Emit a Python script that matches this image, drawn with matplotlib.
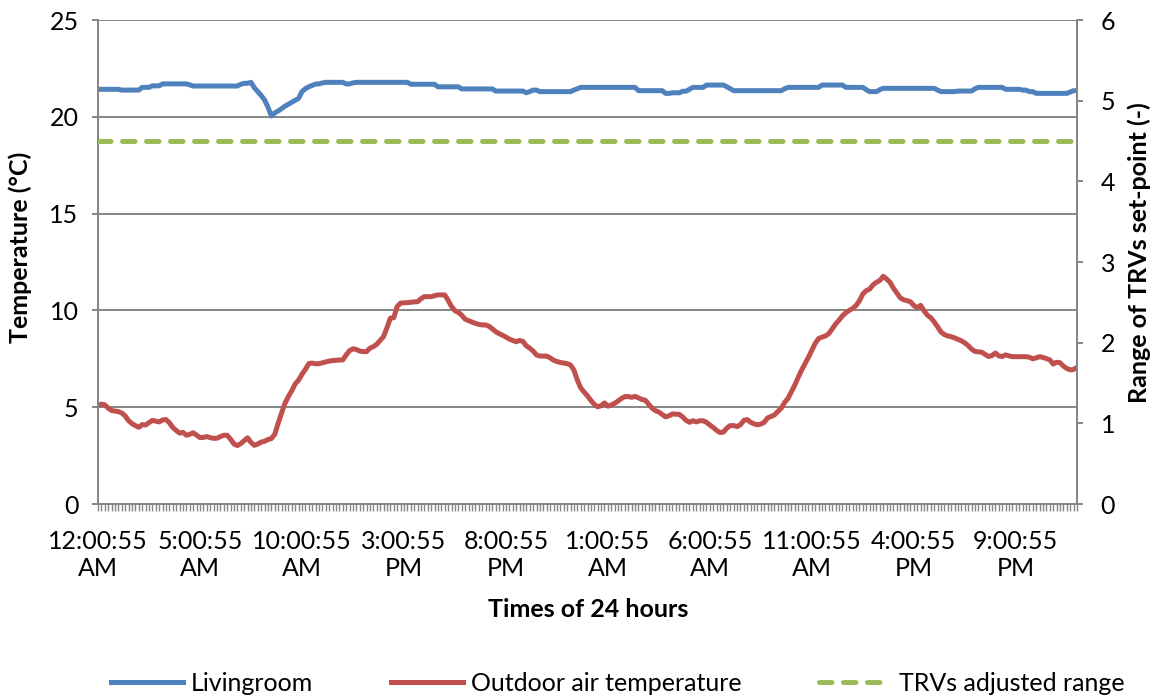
import matplotlib
matplotlib.use("Agg")
import matplotlib.pyplot as plt
from matplotlib.lines import Line2D
from matplotlib.ticker import FixedLocator, NullFormatter

plt.rcParams['font.family'] = ['Lato', 'DejaVu Sans']

# 10-minute readings over 48 hours (289 samples)
livingroom = [
    21.42, 21.42, 21.42, 21.42, 21.42, 21.42, 21.42, 21.38, 21.38, 21.38,
    21.38, 21.38, 21.38, 21.52, 21.52, 21.52, 21.60, 21.60, 21.60, 21.70,
    21.70, 21.70, 21.70, 21.70, 21.70, 21.70, 21.70, 21.65, 21.59, 21.59,
    21.59, 21.59, 21.59, 21.59, 21.59, 21.59, 21.59, 21.59, 21.59, 21.59,
    21.59, 21.59, 21.68, 21.73, 21.73, 21.78, 21.50, 21.30, 21.10, 20.87,
    20.50, 20.04, 20.20, 20.30, 20.42, 20.55, 20.65, 20.75, 20.85, 20.95,
    21.30, 21.45, 21.55, 21.62, 21.69, 21.70, 21.75, 21.78, 21.78, 21.78,
    21.78, 21.78, 21.78, 21.70, 21.70, 21.75, 21.78, 21.78, 21.78, 21.78,
    21.78, 21.78, 21.78, 21.78, 21.78, 21.78, 21.78, 21.78, 21.78, 21.78,
    21.78, 21.78, 21.68, 21.68, 21.68, 21.68, 21.68, 21.68, 21.68, 21.68,
    21.55, 21.55, 21.55, 21.55, 21.55, 21.55, 21.55, 21.44, 21.44, 21.44,
    21.44, 21.44, 21.44, 21.44, 21.44, 21.44, 21.44, 21.33, 21.33, 21.33,
    21.33, 21.33, 21.33, 21.33, 21.33, 21.33, 21.24, 21.30, 21.38, 21.38,
    21.30, 21.30, 21.30, 21.30, 21.30, 21.30, 21.30, 21.30, 21.30, 21.30,
    21.38, 21.45, 21.52, 21.52, 21.52, 21.52, 21.52, 21.52, 21.52, 21.52,
    21.52, 21.52, 21.52, 21.52, 21.52, 21.52, 21.52, 21.52, 21.52, 21.35,
    21.35, 21.35, 21.35, 21.35, 21.35, 21.35, 21.35, 21.21, 21.21, 21.24,
    21.24, 21.24, 21.32, 21.32, 21.42, 21.52, 21.52, 21.52, 21.52, 21.64,
    21.64, 21.64, 21.64, 21.64, 21.64, 21.55, 21.45, 21.35, 21.35, 21.35,
    21.35, 21.35, 21.35, 21.35, 21.35, 21.35, 21.35, 21.35, 21.35, 21.35,
    21.35, 21.35, 21.45, 21.52, 21.52, 21.52, 21.52, 21.52, 21.52, 21.52,
    21.52, 21.52, 21.52, 21.64, 21.64, 21.64, 21.64, 21.64, 21.64, 21.64,
    21.52, 21.52, 21.52, 21.52, 21.52, 21.52, 21.40, 21.30, 21.30, 21.30,
    21.40, 21.47, 21.47, 21.47, 21.47, 21.47, 21.47, 21.47, 21.47, 21.47,
    21.47, 21.47, 21.47, 21.47, 21.47, 21.47, 21.47, 21.38, 21.30, 21.30,
    21.30, 21.30, 21.30, 21.33, 21.33, 21.33, 21.33, 21.33, 21.45, 21.52,
    21.52, 21.52, 21.52, 21.52, 21.52, 21.52, 21.52, 21.42, 21.42, 21.42,
    21.42, 21.42, 21.38, 21.38, 21.30, 21.30, 21.21, 21.21, 21.21, 21.21,
    21.21, 21.21, 21.21, 21.21, 21.21, 21.21, 21.28, 21.35, 21.35,
]

outdoor = [
    5.08, 5.16, 5.12, 4.95, 4.83, 4.80, 4.77, 4.70, 4.55, 4.30,
    4.15, 4.05, 3.96, 4.10, 4.08, 4.20, 4.32, 4.28, 4.24, 4.34,
    4.36, 4.20, 3.95, 3.80, 3.66, 3.70, 3.55, 3.60, 3.68, 3.56,
    3.43, 3.44, 3.48, 3.43, 3.39, 3.40, 3.48, 3.55, 3.55, 3.35,
    3.10, 3.02, 3.12, 3.27, 3.42, 3.18, 3.03, 3.10, 3.20, 3.24,
    3.33, 3.38, 3.60, 4.17, 4.70, 5.20, 5.55, 5.85, 6.20, 6.40,
    6.70, 6.95, 7.25, 7.28, 7.24, 7.25, 7.29, 7.34, 7.38, 7.41,
    7.42, 7.44, 7.44, 7.70, 7.92, 8.02, 7.98, 7.90, 7.87, 7.87,
    8.05, 8.13, 8.25, 8.45, 8.65, 9.10, 9.60, 9.62, 10.20, 10.38,
    10.39, 10.40, 10.42, 10.44, 10.45, 10.60, 10.71, 10.71, 10.71, 10.76,
    10.80, 10.80, 10.80, 10.52, 10.20, 9.98, 9.90, 9.75, 9.55, 9.47,
    9.40, 9.33, 9.28, 9.25, 9.25, 9.18, 9.05, 8.90, 8.80, 8.72,
    8.62, 8.52, 8.45, 8.38, 8.45, 8.40, 8.17, 8.05, 7.90, 7.70,
    7.64, 7.64, 7.64, 7.55, 7.43, 7.36, 7.31, 7.28, 7.25, 7.18,
    6.92, 6.40, 6.00, 5.78, 5.58, 5.35, 5.15, 5.02, 5.08, 5.22,
    5.05, 5.12, 5.20, 5.32, 5.45, 5.55, 5.55, 5.51, 5.56, 5.48,
    5.40, 5.36, 5.15, 4.95, 4.82, 4.75, 4.62, 4.50, 4.56, 4.65,
    4.64, 4.63, 4.50, 4.32, 4.22, 4.30, 4.24, 4.30, 4.30, 4.22,
    4.08, 3.95, 3.80, 3.69, 3.72, 3.92, 4.05, 4.05, 4.00, 4.10,
    4.32, 4.36, 4.22, 4.14, 4.09, 4.13, 4.22, 4.45, 4.52, 4.60,
    4.78, 4.95, 5.25, 5.46, 5.80, 6.15, 6.55, 6.92, 7.25, 7.58,
    7.95, 8.30, 8.55, 8.62, 8.68, 8.80, 9.05, 9.30, 9.50, 9.72,
    9.88, 10.00, 10.10, 10.25, 10.50, 10.85, 11.02, 11.10, 11.32, 11.45,
    11.55, 11.76, 11.62, 11.45, 11.15, 10.90, 10.65, 10.55, 10.50, 10.45,
    10.25, 10.14, 10.26, 9.98, 9.75, 9.62, 9.40, 9.15, 8.88, 8.75,
    8.68, 8.64, 8.58, 8.50, 8.43, 8.32, 8.18, 8.00, 7.88, 7.86,
    7.84, 7.72, 7.62, 7.67, 7.80, 7.65, 7.62, 7.70, 7.65, 7.61,
    7.61, 7.61, 7.61, 7.61, 7.58, 7.50, 7.55, 7.61, 7.57, 7.51,
    7.45, 7.23, 7.32, 7.30, 7.12, 7.00, 6.93, 6.95, 7.06,
]

# TRV set-point range held for the whole period
trv_range_level = 4.5

tick_labels = [
    "12:00:55\nAM", "5:00:55\nAM", "10:00:55\nAM", "3:00:55\nPM", "8:00:55\nPM",
    "1:00:55\nAM", "6:00:55\nAM", "11:00:55\nAM", "4:00:55\nPM", "9:00:55\nPM",
]
label_step = 30

BLUE = "#4F81BD"
RED = "#C0504D"
GREEN = "#9BBB59"
GRAY = "#868686"
FS = 18
LW = 3.6
DASH = (2.5, 2.3)

n = len(outdoor)
x = list(range(n))
trv_range = [trv_range_level] * n

fig = plt.figure(figsize=(11.59, 6.95), dpi=100)
ax = fig.add_axes([98 / 1159, 1 - 504 / 695, 979 / 1159, 484 / 695])
ax2 = ax.twinx()

ax.plot(x, livingroom, color=BLUE, lw=LW, solid_joinstyle="round",
        solid_capstyle="round", zorder=3)
ax.plot(x, outdoor, color=RED, lw=LW, solid_joinstyle="round",
        solid_capstyle="round", zorder=3)
ax2.plot(x, trv_range, color=GREEN, lw=LW, dashes=DASH,
         dash_capstyle="round", zorder=3)

ax.set_xlim(0, n - 1)
ax.set_ylim(0, 25)
ax2.set_ylim(0, 6)

ax.set_yticks(range(0, 26, 5))
ax2.set_yticks(range(0, 7))
ax.yaxis.grid(True, color=GRAY, lw=1.4)
ax.set_axisbelow(True)

ax.xaxis.set_major_locator(FixedLocator(list(range(0, n, label_step))[:len(tick_labels)]))
ax.set_xticklabels(tick_labels)
ax.xaxis.set_minor_locator(FixedLocator(x))
ax.xaxis.set_minor_formatter(NullFormatter())

for a in (ax, ax2):
    a.spines["top"].set_visible(False)
    for side in ("left", "right", "bottom"):
        a.spines[side].set_color(GRAY)
        a.spines[side].set_linewidth(1.4)

ax.tick_params(axis="x", which="both", length=5, width=1.0, color=GRAY,
               labelsize=FS, pad=14)
ax.tick_params(axis="y", length=4, width=1.4, color=GRAY, labelsize=FS, pad=10)
ax2.tick_params(axis="y", length=4, width=1.4, color=GRAY, labelsize=FS, pad=13)
for lab in ax.get_xticklabels():
    lab.set_linespacing(1.2)

ax.set_ylabel("Temperature (°C)", fontsize=FS, fontweight="bold", va="center")
ax.yaxis.set_label_coords(-0.079, 0.53)
ax2.set_ylabel("Range of TRVs set-point (-)", fontsize=FS, fontweight="bold",
               rotation=90, va="center")
ax2.yaxis.set_label_coords(1.064, 0.52)
ax.set_xlabel("Times of 24 hours", fontsize=FS, fontweight="bold", va="center")
ax.xaxis.set_label_coords(0.5005, -0.219)

handles = [
    Line2D([], [], color=BLUE, lw=LW),
    Line2D([], [], color=RED, lw=LW),
    Line2D([], [], color=GREEN, lw=LW, dashes=DASH, dash_capstyle="round"),
]
fig.legend(handles, ["Livingroom", "Outdoor air temperature", "TRVs adjusted range"],
           loc="center", bbox_to_anchor=(0.533, 0.017), ncol=3, frameon=False,
           fontsize=FS, handlelength=2.9, handletextpad=0.3, columnspacing=3.1,
           borderpad=0.0)

fig.savefig("out.png", dpi=100)
